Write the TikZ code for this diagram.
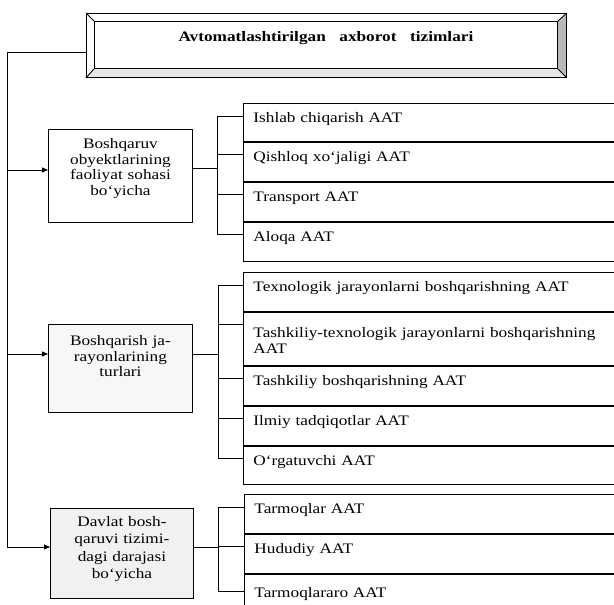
\documentclass[tikz,border=0pt]{standalone}
\usepackage{fontspec}
\setmainfont{Liberation Serif}[FakeStretch=1.19]
\usetikzlibrary{arrows.meta,calc}
\begin{document}
\begin{tikzpicture}[x=1pt,y=-1pt,
  line width=0.9pt,
  every node/.style={font=\fontsize{14.5}{15.7}\selectfont},
  item/.style={draw, anchor=north west, align=left, text width=380pt, inner xsep=10pt, inner ysep=0pt, text height=19.3pt, text depth=19.7pt},
  item2/.style={item, text height=25.5pt, text depth=27.5pt},
  grp/.style={draw, anchor=north west, align=center, inner xsep=0pt, inner ysep=0pt, text width=144pt},
  arr/.style={-{Triangle[length=6pt,width=5pt]}},
]
\useasboundingbox (0,0) rectangle (614,605);
\clip (0,0) rectangle (614,605);

% title frame
\node[draw, anchor=north west, inner xsep=0pt, inner ysep=0pt, text height=20pt, text depth=27pt, text width=463pt, align=center] (title) at (94,21)
  {\bfseries Avtomatlashtirilgan\hspace{0.6em} axborot\hspace{0.6em} tizimlari};
\node[anchor=north west, minimum width=480pt, minimum height=64pt, inner sep=0pt] (frame) at (86,13) {};
\fill[white] (frame.north west) -- (frame.north east) -- (title.north east) -- (title.north west) -- cycle;
\fill[gray!55] (frame.north east) -- (frame.south east) -- (title.south east) -- (title.north east) -- cycle;
\fill[gray!18] (frame.south west) -- (frame.south east) -- (title.south east) -- (title.south west) -- cycle;
\draw (frame.north west) rectangle (frame.south east);
\draw (frame.north west) -- (title.north west) (frame.north east) -- (title.north east)
      (frame.south west) -- (title.south west) (frame.south east) -- (title.south east);
\draw (title.north west) rectangle (title.south east);

% group boxes
\node[grp, fill=white, text height=19pt, text depth=74pt] (g1) at (48,129)
  {Boshqaruv\\obyektlarining\\faoliyat sohasi\\bo‘yicha};
\node[grp, fill=gray!6, text height=21pt, text depth=67pt] (g2) at (48,324)
  {Boshqarish ja-\\rayonlarining\\turlari};
\node[grp, fill=gray!11, text width=143pt, text height=18pt, text depth=72pt,
      font=\fontsize{14.5}{17.5}\selectfont] (g3) at (50,508)
  {Davlat bosh-\\qaruvi tizimi-\\dagi darajasi\\bo‘yicha};

% items group 1
\node[item, text depth=18.7pt] (i11) at (243,103) {Ishlab chiqarish AAT};
\node[item] (i12) at (i11.south west) {Qishloq xo‘jaligi AAT};
\node[item] (i13) at (i12.south west) {Transport AAT};
\node[item] (i14) at (i13.south west) {Aloqa AAT};
% items group 2
\node[item] (i21) at (243,272) {Texnologik jarayonlarni boshqarishning AAT};
\node[item2] (i22) at (i21.south west) {Tashkiliy-texnologik jarayonlarni boshqarishning\\AAT};
\node[item] (i23) at (i22.south west) {Tashkiliy boshqarishning AAT};
\node[item] (i24) at (i23.south west) {Ilmiy tadqiqotlar AAT};
\node[item, text depth=18.7pt] (i25) at (i24.south west) {O‘rgatuvchi AAT};
% items group 3
\node[item] (i31) at (244,494) {Tarmoqlar AAT};
\node[item] (i32) at (i31.south west) {Hududiy AAT};
\node[item, text height=23pt, text depth=16pt] (i33) at (i32.south west) {Tarmoqlararo AAT};

% trunk and arrows
\coordinate (tr) at ($(frame.west)+(-79,7)$);
\coordinate (a1) at ($(g1.north west)+(0,41)$);
\coordinate (a2) at ($(g2.north west)+(0,30)$);
\coordinate (a3) at ($(g3.north west)+(0,39)$);
\draw (tr -| frame.west) -- (tr);
\draw[arr] (tr) |- (a3);
\draw[arr] (tr |- a1) -- (a1);
\draw[arr] (tr |- a2) -- (a2);

% brackets
\coordinate (j1) at ($(g1.north east)+(25,39)$);
\coordinate (j2) at ($(g2.north east)+(26,30)$);
\coordinate (j3) at ($(g3.north east)+(25,39)$);
\draw (j1 -| g1.east) -- (j1);
\draw (j2 -| g2.east) -- (j2);
\draw (j3 -| g3.east) -- (j3);
\foreach \n in {i11,i12,i13,i14} \draw ($(\n.north west)+(0,13)$) -| (j1);
\foreach \n in {i21,i22,i23,i24,i25} \draw ($(\n.north west)+(0,13)$) -| (j2);
\foreach \n in {i31,i32} \draw ($(\n.north west)+(0,13)$) -| (j3);
\draw ($(i33.north west)+(0,18)$) -| (j3);
\end{tikzpicture}
\end{document}
